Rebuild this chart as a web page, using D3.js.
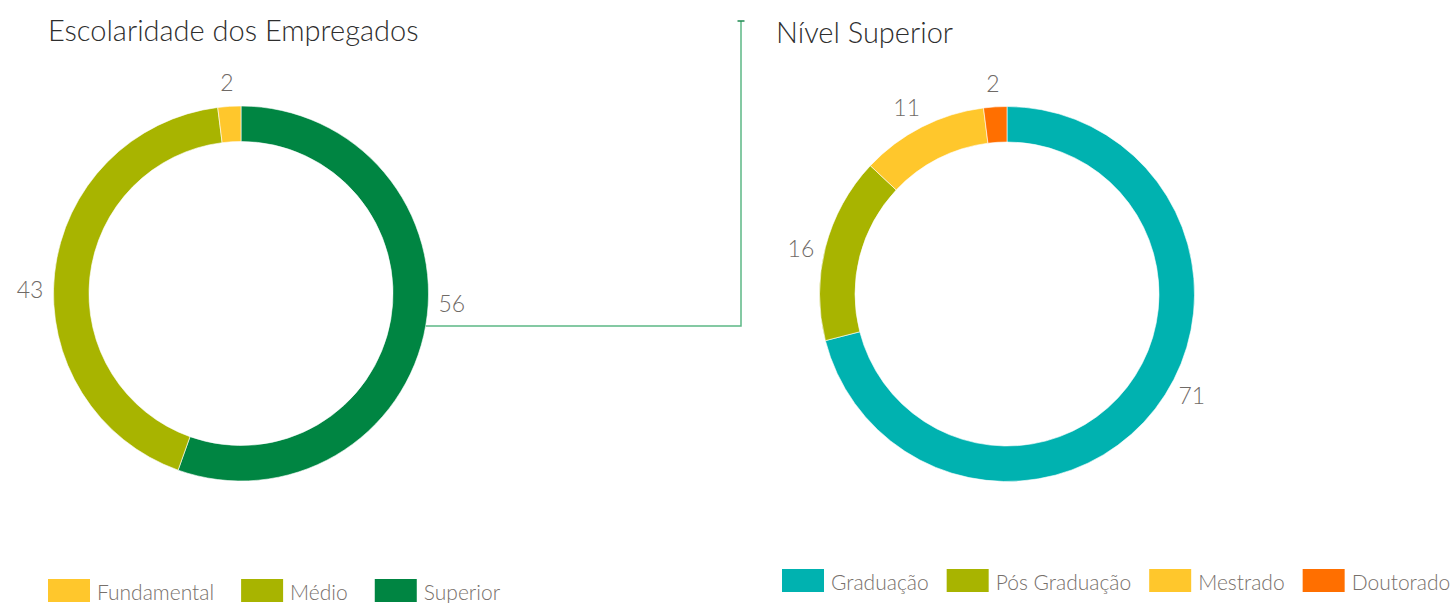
<!DOCTYPE html>
<html>
<head>
<meta charset="utf-8">
<script src="https://cdn.jsdelivr.net/npm/d3@7"></script>
<style>
  body { margin: 0; background: #fff; }
  svg { display: block; font-family: Lato, sans-serif; }
</style>
</head>
<body>
<div id="chart"></div>
<script>
// Escolaridade dos Empregados
const leftCategories = ["Superior", "Médio", "Fundamental"];
const leftValues = [56, 43, 2];
const leftLegendOrder = ["Fundamental", "Médio", "Superior"];

// Nível Superior
const rightCategories = ["Graduação", "Pós Graduação", "Mestrado", "Doutorado"];
const rightValues = [71, 16, 11, 2];

const colors = {
  "Superior": "#008542",
  "Médio": "#a8b400",
  "Fundamental": "#ffc72c",
  "Graduação": "#00b2b0",
  "Pós Graduação": "#a8b400",
  "Mestrado": "#ffc72c",
  "Doutorado": "#ff6f00"
};

const width = 1455, height = 603;
const outerR = 187.5, innerR = 152, labelR = 211;

const svg = d3.select("#chart").append("svg")
  .attr("width", width)
  .attr("height", height);

function drawDonut(cx, cy, cats, vals) {
  const g = svg.append("g").attr("transform", `translate(${cx},${cy})`);
  const data = cats.map((c, i) => ({ name: c, value: vals[i] }));
  const pie = d3.pie().sort(null).value(d => d.value);
  const arc = d3.arc().innerRadius(innerR).outerRadius(outerR);
  const arcs = pie(data);

  g.selectAll("path")
    .data(arcs)
    .enter()
    .append("path")
    .attr("d", arc)
    .attr("fill", d => colors[d.data.name])
    .attr("stroke", "#fff")
    .attr("stroke-width", 0.6);

  // labels sit a bit before the middle of their slice
  const labelPos = d => {
    const a = (d.startAngle + d.endAngle) / 2 - 0.035 * (d.endAngle - d.startAngle);
    return [labelR * Math.sin(a), -labelR * Math.cos(a)];
  };

  g.selectAll(".lbl")
    .data(arcs)
    .enter()
    .append("text")
    .attr("class", "lbl")
    .attr("transform", d => `translate(${labelPos(d)})`)
    .attr("text-anchor", "middle")
    .attr("dy", "0.35em")
    .attr("fill", "#6f6a66")
    .attr("font-size", 23)
    .attr("font-weight", 300)
    .text(d => d.data.value);
  return g;
}

function drawLegend(x0, y0, names, gap) {
  let x = x0;
  names.forEach(n => {
    svg.append("rect")
      .attr("x", x).attr("y", y0)
      .attr("width", 42).attr("height", 23)
      .attr("fill", colors[n]);
    const t = svg.append("text")
      .attr("x", x + 49).attr("y", y0 + 21)
      .attr("fill", "#77706b")
      .attr("font-size", 21)
      .attr("font-weight", 300)
      .text(n);
    x += 49 + t.node().getComputedTextLength() + gap;
  });
}

// titles
svg.append("text")
  .attr("x", 48).attr("y", 41)
  .attr("fill", "#2e2e2e")
  .attr("font-size", 29)
  .attr("font-weight", 300)
  .text("Escolaridade dos Empregados");

svg.append("text")
  .attr("x", 776).attr("y", 43)
  .attr("fill", "#2e2e2e")
  .attr("font-size", 29)
  .attr("font-weight", 300)
  .text("Nível Superior");

const leftC = [241, 293.5], rightC = [1007, 294];
drawDonut(leftC[0], leftC[1], leftCategories, leftValues);
drawDonut(rightC[0], rightC[1], rightCategories, rightValues);

// connector from "Superior" slice to the second chart
const lineY = leftC[1] + 32.5;
const lineX0 = leftC[0] + Math.sqrt(outerR * outerR - 32.5 * 32.5);
const lineX1 = 741, lineTop = 21;
svg.append("path")
  .attr("d", `M${lineX0},${lineY}H${lineX1}V${lineTop}`)
  .attr("fill", "none")
  .attr("stroke", "#5cb885")
  .attr("stroke-width", 1.5);
svg.append("path")
  .attr("d", `M${lineX1 - 3.5},${lineTop}H${lineX1 + 3.5}`)
  .attr("stroke", "#1e8a50")
  .attr("stroke-width", 1.5);

drawLegend(48, 579, leftLegendOrder, 27);
drawLegend(782, 569, rightCategories, 18);
</script>
</body>
</html>
